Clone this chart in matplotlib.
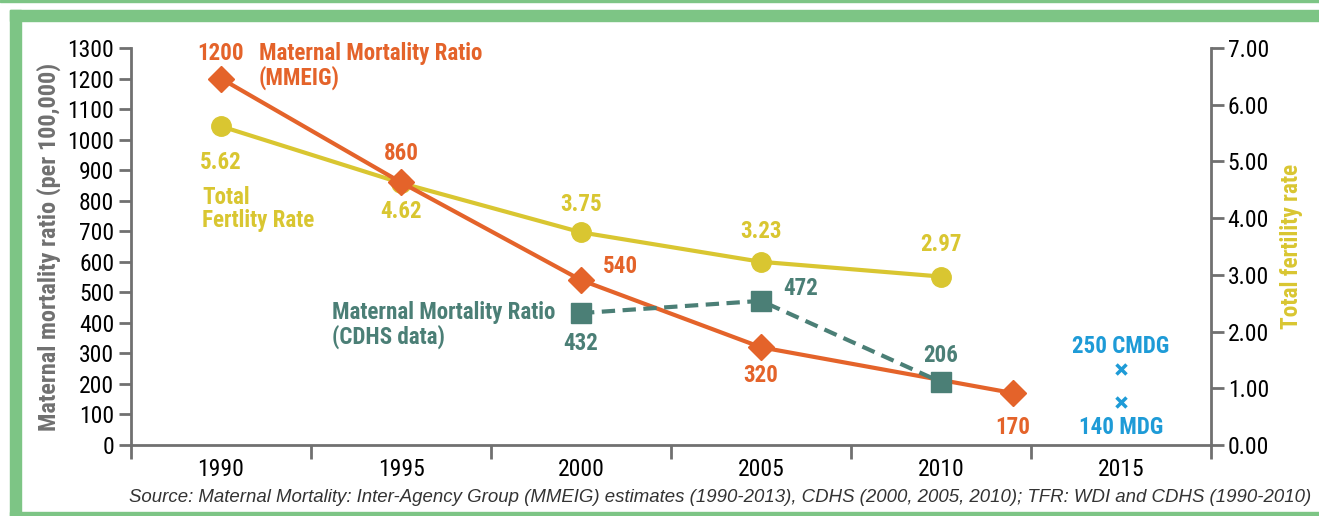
import matplotlib
matplotlib.use("Agg")
import matplotlib.pyplot as plt
from matplotlib import font_manager as fm
from matplotlib.patches import Rectangle
from matplotlib.ticker import FormatStrFormatter


# pick a condensed sans face if one is installed
def pick_font():
    fl = fm.fontManager.ttflist
    names = {f.name for f in fl}
    for n in ('Liberation Sans Narrow', 'Roboto Condensed', 'Open Sans Condensed',
              'Noto Sans Condensed', 'DejaVu Sans Condensed', 'Arial Narrow'):
        if n in names:
            return n, 'normal'
    for fam in ('Roboto', 'Noto Sans', 'Open Sans', 'DejaVu Sans'):
        if any(f.name == fam and 'condensed' in str(f.stretch) for f in fl):
            return fam, 'condensed'
    return 'DejaVu Sans', 'normal'


font_name, font_stretch = pick_font()
plt.rcParams['font.family'] = [font_name, 'DejaVu Sans']
plt.rcParams['font.stretch'] = font_stretch

# data
years_mmeig = [1990, 1995, 2000, 2005, 2012]
mmeig = [1200, 860, 540, 320, 170]
years_tfr = [1990, 1995, 2000, 2005, 2010]
tfr = [5.62, 4.62, 3.75, 3.23, 2.97]
years_cdhs = [2000, 2005, 2010]
cdhs = [432, 472, 206]
mdg_year = 2015
mdg_values = [250, 140]
mdg_labels = ['250 CMDG', '140 MDG']
year_labels = ['1990', '1995', '2000', '2005', '2010', '2015']

orange = '#E4632A'
yellow = '#D9C631'
teal = '#4B7F76'
blue = '#1E9BD7'
grey = '#707070'
green = '#7DC585'

fig = plt.figure(figsize=(13.19, 5.16), dpi=100)
ax = fig.add_axes([131/1319, 1 - 445/516, (1211 - 131)/1319, (445 - 48)/516])
ax2 = ax.twinx()
ax.set_zorder(ax2.get_zorder() + 1)
ax.patch.set_visible(False)

# border
W, H = 1319, 516
fig.patches.append(Rectangle((0, 1 - 2/H), 1, 2/H, transform=fig.transFigure, color=green))
fig.patches.append(Rectangle((10/W, 1 - 21/H), 1, 11/H, transform=fig.transFigure, color=green))
fig.patches.append(Rectangle((10/W, 0), 11/W, 1 - 10/H, transform=fig.transFigure, color=green))
fig.patches.append(Rectangle((10/W, 0), 1, 4/H, transform=fig.transFigure, color=green))

# lines
ax2.plot(years_tfr, tfr, color=yellow, lw=3, marker='o', ms=14, zorder=2)
ax.plot(years_mmeig, mmeig, color=orange, lw=3, marker='D', ms=13, zorder=3)
ax.plot(years_cdhs, cdhs, color=teal, lw=3, ls=(0, (3.2, 1.8)), marker='s', ms=14, zorder=4)
ax.plot([mdg_year] * len(mdg_values), mdg_values, ls='none', marker='x', ms=7, mew=2.5,
        color=blue, zorder=5)

# axes styling
ax.set_xlim(1987.5, 2017.5)
ax.set_ylim(0, 1300)
ax2.set_ylim(0, 7)
ax.set_yticks(range(0, 1301, 100))
ax2.set_yticks(range(0, 8))
ax2.yaxis.set_major_formatter(FormatStrFormatter('%.2f'))

ax.set_xticks([1987.5 + 5 * i for i in range(7)])
ax.set_xticklabels([])
ax.set_xticks(list(range(1990, 2016, 5)), minor=True)
ax.set_xticklabels(year_labels, minor=True)
ax.tick_params(axis='x', which='major', length=10, width=2, color=grey)
ax.tick_params(axis='x', which='minor', length=0, labelsize=17, pad=9)
ax.tick_params(axis='y', length=9, width=2, color=grey, labelsize=17, pad=3)
ax2.tick_params(axis='y', length=9, width=2, color=grey, labelsize=17, pad=3)

for a in (ax, ax2):
    for s in a.spines.values():
        s.set_color(grey)
        s.set_linewidth(2)
    a.spines['top'].set_visible(False)
ax.spines['right'].set_visible(False)
ax2.spines['left'].set_visible(False)
ax2.spines['bottom'].set_visible(False)

ax.set_ylabel('Maternal mortality ratio (per 100,000)', color=grey, fontsize=17.5,
              fontweight='bold', labelpad=5)
ax2.set_ylabel('Total fertility rate', color=yellow, fontsize=16.8, fontweight='bold',
               labelpad=8)


# value labels
def lab(a, x, y, text, dx, dy, color, ha='center'):
    a.annotate(text, (x, y), xytext=(dx * 0.72, dy * 0.72), textcoords='offset points',
               ha=ha, va='center', color=color, fontsize=16.6, fontweight='bold')


mm_off = [(0, 25), (0, 29), (22, 14), (0, -28), (0, -34)]
for x, y, (dx, dy) in zip(years_mmeig, mmeig, mm_off):
    lab(ax, x, y, str(y), dx, dy, orange, ha='left' if dx else 'center')

tf_off = [(0, -36), (0, -29), (0, 28), (0, 30), (0, 32)]
for x, y, (dx, dy) in zip(years_tfr, tfr, tf_off):
    lab(ax2, x, y, f'{y:.2f}', dx, dy, yellow)

cd_off = [(0, -30), (22, 12), (0, 27)]
for x, y, (dx, dy) in zip(years_cdhs, cdhs, cd_off):
    lab(ax, x, y, str(y), dx, dy, teal, ha='left' if dx else 'center')

lab(ax, mdg_year, mdg_values[0], mdg_labels[0], 0, 22, blue)
lab(ax, mdg_year, mdg_values[1], mdg_labels[1], 0, -25, blue)

# series names
fig.text(259/W, 1 - 66/H, 'Maternal Mortality Ratio\n(MMEIG)', color=orange, fontsize=16.6,
         fontweight='bold', ha='left', va='center', linespacing=1.0)
fig.text(202/W, 1 - 209/H, 'Total\nFertlity Rate', color=yellow, fontsize=16.6,
         fontweight='bold', ha='left', va='center', linespacing=1.0)
fig.text(332/W, 1 - 325/H, 'Maternal Mortality Ratio\n(CDHS data)', color=teal, fontsize=16.6,
         fontweight='bold', ha='left', va='center', linespacing=1.0)

fig.text(129/W, 1 - 497/H,
         'Source: Maternal Mortality: Inter-Agency Group (MMEIG) estimates (1990-2013), '
         'CDHS (2000, 2005, 2010); TFR: WDI and CDHS (1990-2010)',
         family=['Liberation Sans', 'DejaVu Sans'], stretch='normal', style='italic',
         fontsize=13.4, color='#333333', ha='left', va='center')

fig.savefig('out.png', dpi=100)
